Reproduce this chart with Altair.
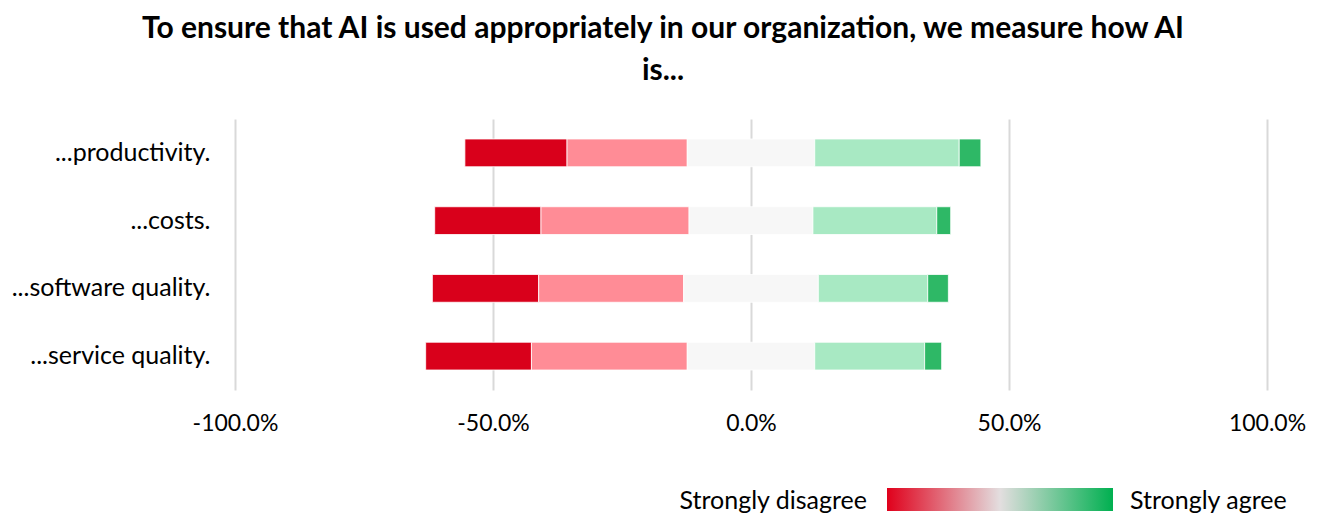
import altair as alt
import pandas as pd

categories = ["...productivity.", "...costs.", "...software quality.", "...service quality."]
levels = ["Strongly disagree", "Disagree", "Neutral", "Agree", "Strongly agree"]
strongly_disagree = [0.198, 0.206, 0.206, 0.205]
disagree = [0.233, 0.287, 0.281, 0.302]
neutral = [0.247, 0.240, 0.261, 0.247]
agree = [0.280, 0.240, 0.212, 0.213]
strongly_agree = [0.042, 0.027, 0.040, 0.033]
colors = ["#D9001B", "#FF8C96", "#F7F7F7", "#A8E9C3", "#2EB866"]

rows = []
for i, cat in enumerate(categories):
    vals = [strongly_disagree[i], disagree[i], neutral[i], agree[i], strongly_agree[i]]
    start = -(vals[0] + vals[1] + vals[2] / 2)
    for lvl, v in zip(levels, vals):
        rows.append({"category": cat, "level": lvl, "start": start, "end": start + v, "value": v})
        start += v
df = pd.DataFrame(rows)

FONT = "Lato"

bars = alt.Chart(df).mark_bar(stroke="white", strokeWidth=0.8).encode(
    y=alt.Y("category:N", sort=categories,
            scale=alt.Scale(paddingInner=0.59, paddingOuter=0.295),
            axis=alt.Axis(title=None, ticks=False, domain=False, labelPadding=25,
                          labelFontSize=25, labelFont=FONT, labelColor="#000000",
                          labelLimit=400, grid=False)),
    x=alt.X("start:Q", scale=alt.Scale(domain=[-1, 1], nice=False),
            axis=alt.Axis(title=None, format=".1%", values=[-1, -0.5, 0, 0.5, 1],
                          labelExpr="replace(datum.label, '\u2212', '-')",
                          ticks=False, domain=False, grid=True, gridColor="#D9D9D9",
                          gridWidth=2, labelPadding=22, labelFontSize=23,
                          labelFont=FONT, labelColor="#000000",
                          labelFlush=False)),
    x2="end:Q",
    color=alt.Color("level:N", scale=alt.Scale(domain=levels, range=colors), legend=None),
)

legend_df = pd.DataFrame({"left": ["Strongly disagree"], "right": ["Strongly agree"]})

grad = alt.Chart(legend_df).mark_rect(
    color=alt.Gradient(
        gradient="linear",
        stops=[
            alt.GradientStop(color="#E0001B", offset=0),
            alt.GradientStop(color="#E3DEDF", offset=0.5),
            alt.GradientStop(color="#00B050", offset=1),
        ],
        x1=0, x2=1, y1=0, y2=0,
    )
).encode(x=alt.value(652), x2=alt.value(878), y=alt.value(369), y2=alt.value(392))

txt_left = alt.Chart(legend_df).mark_text(
    align="right", baseline="middle", fontSize=25, font=FONT, color="#000000"
).encode(text="left:N", x=alt.value(632), y=alt.value(382))

txt_right = alt.Chart(legend_df).mark_text(
    align="left", baseline="middle", fontSize=25, font=FONT, color="#000000"
).encode(text="right:N", x=alt.value(895), y=alt.value(382))

chart = alt.layer(bars, grad, txt_left, txt_right).properties(
    width=1032,
    height=271,
    autosize=alt.AutoSizeParams(type="none"),
    padding={"left": 235, "top": 119, "right": 59, "bottom": 123},
    title=alt.TitleParams(
        text=["To ensure that AI is used appropriately in our organization, we measure how AI", "is..."],
        fontSize=30, font=FONT, fontWeight="bold", color="#000000",
        anchor="middle", dx=-88, lineHeight=42, offset=33,
    ),
).configure(background="white", view=alt.ViewConfig(stroke=None, strokeWidth=0))

chart.save("out.html", embed_options={"renderer": "svg", "actions": False})
